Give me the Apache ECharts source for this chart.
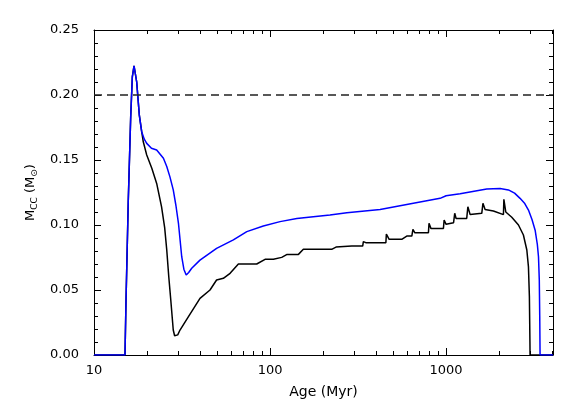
<!DOCTYPE html>
<html>
<head>
<meta charset="utf-8">
<script src="https://cdn.jsdelivr.net/npm/echarts@6/dist/echarts.min.js"></script>
<style>
  html, body { margin: 0; padding: 0; background: #fff; }
  #chart { width: 581px; height: 415px; }
</style>
</head>
<body>
<div id="chart"></div>
<script>
// black curve (age in Myr, convective core mass in Msun)
const ageBlack = [10, 15.0, 15.2, 15.66, 16.16, 16.51, 16.88, 17.48, 18.09, 18.66, 19.05, 19.93, 21.3, 22.7, 24.2, 25.2, 25.9, 26.6, 27.3, 28.2, 28.7, 29.2, 29.9, 30.8, 34.4, 40, 45.6, 49.7, 54.3, 59.3, 66.1, 84, 93.7, 104.5, 116.5, 125, 145, 154.6, 224, 237, 291, 336, 339, 350, 441, 455, 458, 475, 560, 598, 639, 648, 665, 794, 800, 820, 966, 975, 1000, 1103, 1120, 1140, 1310, 1330, 1370, 1595, 1620, 1666, 1858, 2118, 2130, 2184, 2362, 2578, 2750, 2876, 2937, 2974, 2995, 3000, 4050]
const mccBlack = [0, 0, 0.042, 0.119, 0.183, 0.214, 0.2225, 0.210, 0.1846, 0.1718, 0.164, 0.1538, 0.1436, 0.132, 0.114, 0.098, 0.0808, 0.06, 0.0423, 0.0192, 0.0148, 0.0136, 0.0155, 0.0192, 0.0295, 0.0436, 0.05, 0.0577, 0.059, 0.0628, 0.07, 0.07, 0.0736, 0.0736, 0.0751, 0.0774, 0.0774, 0.0813, 0.0813, 0.083, 0.0838, 0.0838, 0.0872, 0.0864, 0.0864, 0.0864, 0.093, 0.089, 0.089, 0.0915, 0.0915, 0.0967, 0.094, 0.094, 0.1013, 0.0974, 0.0974, 0.1038, 0.1005, 0.1018, 0.109, 0.105, 0.105, 0.114, 0.108, 0.109, 0.1167, 0.112, 0.1108, 0.108, 0.1197, 0.110, 0.106, 0.1, 0.0923, 0.0808, 0.068, 0.0449, 0.01, 0, 0]

// blue curve
const ageBlue = [10, 15.0, 15.2, 15.66, 16.16, 16.51, 16.88, 17.48, 18.09, 18.66, 19.3, 19.93, 21.2, 22.7, 24.8, 25.9, 27.0, 28.2, 29.2, 30.2, 31.5, 32.4, 33.4, 34.5, 35.9, 40, 49.7, 61.9, 73.8, 91.6, 114, 142, 176, 219, 273, 422, 652, 925, 1000, 1202, 1702, 2027, 2260, 2450, 2632, 2800, 2938, 3080, 3206, 3300, 3350, 3385, 3405, 3420, 4050]
const mccBlue = [0, 0, 0.042, 0.119, 0.183, 0.214, 0.2225, 0.210, 0.1846, 0.1718, 0.166, 0.1628, 0.159, 0.1577, 0.1513, 0.145, 0.137, 0.127, 0.115, 0.101, 0.0756, 0.066, 0.0615, 0.0635, 0.0667, 0.073, 0.082, 0.0885, 0.0949, 0.0992, 0.1026, 0.105, 0.1064, 0.1077, 0.1095, 0.112, 0.1167, 0.1205, 0.1225, 0.124, 0.1277, 0.128, 0.127, 0.1245, 0.1205, 0.1165, 0.1115, 0.104, 0.096, 0.085, 0.0756, 0.058, 0.03, 0, 0]

const refLevel = 0.198
const minorAges = [20, 30, 40, 50, 60, 70, 80, 90, 200, 300, 400, 500, 600, 700, 800, 900, 2000, 3000, 4000]

const xMin = 10
const xMax = 4050
const font = 'DejaVu Sans'

const chart = echarts.init(document.getElementById('chart'))

function xAxisOpt(pos, labels) {
  return {
    type: 'log',
    logBase: 10,
    position: pos,
    min: xMin,
    max: xMax,
    name: labels ? 'Age (Myr)' : '',
    nameLocation: 'middle',
    nameGap: 30,
    nameTextStyle: { color: '#000', fontFamily: font, fontSize: 14 },
    axisLine: { show: true, onZero: false, lineStyle: { color: '#000', width: 1 } },
    axisTick: { show: true, inside: true, length: 7, lineStyle: { color: '#000' } },
    axisLabel: {
      show: labels,
      color: '#000',
      fontFamily: font,
      fontSize: 13,
      margin: 9,
      formatter: v => {
        const l = Math.log10(v)
        return Math.abs(l - Math.round(l)) < 1e-6 ? String(Math.round(v)) : ''
      }
    },
    splitLine: { show: false }
  }
}

function yAxisOpt(pos, labels) {
  return {
    type: 'value',
    position: pos,
    min: 0,
    max: 0.25,
    interval: 0.05,
    name: labels ? 'M{s|CC} (M{s|\u2299})' : '',
    nameLocation: 'middle',
    nameGap: 50,
    nameTextStyle: {
      color: '#000', fontFamily: font, fontSize: 13,
      rich: { s: { fontSize: 9, verticalAlign: 'bottom', padding: [8, 0, 0, 0], fontFamily: font, color: '#000' } }
    },
    axisLine: { show: true, lineStyle: { color: '#000', width: 1 } },
    axisTick: { show: true, inside: true, length: 7, lineStyle: { color: '#000' } },
    minorTick: { show: true, splitNumber: 5, length: 4, lineStyle: { color: '#000' } },
    axisLabel: {
      show: labels,
      color: '#000',
      fontFamily: font,
      fontSize: 13,
      margin: 15,
      formatter: v => v.toFixed(2)
    },
    splitLine: { show: false }
  }
}

chart.setOption({
  animation: false,
  backgroundColor: '#fff',
  grid: { left: 94, right: 28, top: 30, bottom: 60 },
  xAxis: [xAxisOpt('bottom', true), xAxisOpt('top', false)],
  yAxis: [yAxisOpt('left', true), yAxisOpt('right', false)],
  series: [
    {
      type: 'line',
      data: ageBlack.map((a, i) => [a, mccBlack[i]]),
      showSymbol: false,
      lineStyle: { color: '#000', width: 1.5 },
      z: 2,
      markLine: {
        silent: true,
        symbol: ['none', 'none'],
        label: { show: false },
        lineStyle: { color: '#222', width: 1.5, type: [8, 5] },
        data: [{ yAxis: refLevel }]
      }
    },
    {
      type: 'line',
      data: ageBlue.map((a, i) => [a, mccBlue[i]]),
      showSymbol: false,
      lineStyle: { color: '#0000ff', width: 1.5 },
      z: 3
    }
  ]
})

// log-axis minor ticks at 2..9 x each decade, bottom and top
const yb = chart.convertToPixel({ yAxisIndex: 0 }, 0)
const yt = chart.convertToPixel({ yAxisIndex: 0 }, 0.25)
const ticks = []
minorAges.filter(a => a < xMax).forEach(a => {
  const x = Math.round(chart.convertToPixel({ xAxisIndex: 0 }, a)) + 0.5
  ticks.push({ type: 'line', shape: { x1: x, y1: yb, x2: x, y2: yb - 4 }, style: { stroke: '#000', lineWidth: 1 }, silent: true })
  ticks.push({ type: 'line', shape: { x1: x, y1: yt, x2: x, y2: yt + 4 }, style: { stroke: '#000', lineWidth: 1 }, silent: true })
})
chart.setOption({ graphic: ticks })
</script>
</body>
</html>
